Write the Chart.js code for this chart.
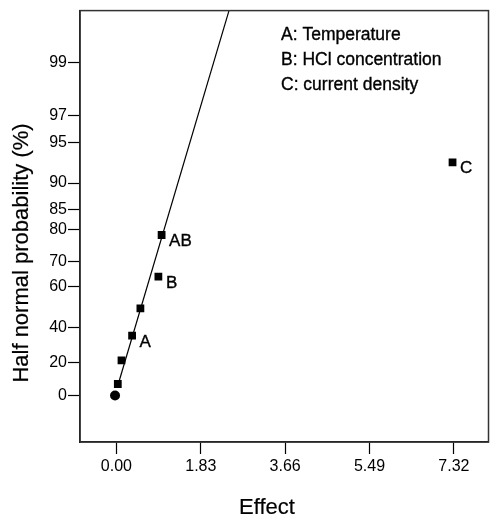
<!DOCTYPE html>
<html>
<head>
<meta charset="utf-8">
<script src="https://cdn.jsdelivr.net/npm/chart.js@4.4.1/dist/chart.umd.min.js"></script>
<style>
  html, body { margin: 0; padding: 0; background: #fff; }
  #grafico { display: block; }
</style>
</head>
<body>
<canvas id="grafico" width="494" height="519"></canvas>
<script>
// ================= DADOS =================
// effects (x) and half normal probability in % (y)
const efeitos = [0.03, 0.11, 0.34, 0.52, 0.91, 0.98, 7.29];
const probabilidades = [7.1, 21.4, 35.7, 50.0, 64.3, 78.6, 92.9];
const rotulosPontos = ["", "", "A", "", "B", "AB", "C"];

// origin marker (circle)
const origemEfeito = [-0.03];
const origemProb = [0];

// fitted line, two ends
const retaEfeito = [0.05, 2.44];
const retaProb = [8.0, 99.71];

// ticks
const ticksX = [0, 1.83, 3.66, 5.49, 7.32];
const ticksYProb = [0, 20, 40, 60, 70, 80, 85, 90, 95, 97, 99];
const rotulosY = ["0", "20", "40", "60", "70", "80", "85", "90", "95", "97", "99"];

const legendaTextos = ["A: Temperature", "B: HCl concentration", "C: current density"];

const FONTE = '"Liberation Sans", Arial, sans-serif';

// ================= ESCALA MEIO-NORMAL =================
// inverse standard normal cdf (Acklam)
function probit(p) {
  const a = [-3.969683028665376e+01, 2.209460984245205e+02, -2.759285104469687e+02, 1.383577518672690e+02, -3.066479806614716e+01, 2.506628277459239e+00];
  const b = [-5.447609879822406e+01, 1.615858368580409e+02, -1.556989798598866e+02, 6.680131188771972e+01, -1.328068155288572e+01];
  const c = [-7.784894002430293e-03, -3.223964580411365e-01, -2.400758277161838e+00, -2.549671743877302e+00, 4.374664141464968e+00, 2.938163982698783e+00];
  const d = [7.784695709041462e-03, 3.224671290700398e-01, 2.445134137142996e+00, 3.754408661907416e+00];
  const pl = 0.02425, ph = 1 - pl;
  let q, r;
  if (p < pl) {
    q = Math.sqrt(-2 * Math.log(p));
    return (((((c[0]*q+c[1])*q+c[2])*q+c[3])*q+c[4])*q+c[5]) / ((((d[0]*q+d[1])*q+d[2])*q+d[3])*q+1);
  }
  if (p <= ph) {
    q = p - 0.5; r = q * q;
    return (((((a[0]*r+a[1])*r+a[2])*r+a[3])*r+a[4])*r+a[5])*q / (((((b[0]*r+b[1])*r+b[2])*r+b[3])*r+b[4])*r+1);
  }
  q = Math.sqrt(-2 * Math.log(1 - p));
  return -(((((c[0]*q+c[1])*q+c[2])*q+c[3])*q+c[4])*q+c[5]) / ((((d[0]*q+d[1])*q+d[2])*q+d[3])*q+1);
}

// percent -> half normal score
function meioNormal(pct) {
  return probit(0.5 + pct / 200);
}

function pontos(xs, ps) {
  return xs.map((x, i) => ({ x: x, y: meioNormal(ps[i]) }));
}

// texto um pouco mais grosso, como no original escaneado
function escrever(ctx, t, x, y) {
  ctx.fillText(t, x, y);
  ctx.strokeText(t, x, y);
}

// ================= TEXTOS (plugin) =================
const textos = {
  id: "textos",
  afterDatasetsDraw(chart) {
    const ctx = chart.ctx;
    const area = chart.chartArea;
    const sx = chart.scales.x, sy = chart.scales.y;

    ctx.save();
    // frame
    ctx.strokeStyle = "#333";
    ctx.lineWidth = 1.5;
    ctx.strokeRect(area.left, area.top, area.right - area.left, area.bottom - area.top);

    ctx.fillStyle = "#000";
    ctx.strokeStyle = "#000";
    ctx.lineWidth = 0.35;
    ctx.textAlign = "left";
    ctx.textBaseline = "middle";

    // point labels
    ctx.font = "17px " + FONTE;
    efeitos.forEach((e, i) => {
      if (!rotulosPontos[i]) return;
      const px = sx.getPixelForValue(e);
      const py = sy.getPixelForValue(meioNormal(probabilidades[i]));
      escrever(ctx, rotulosPontos[i], px + 7.5, py + 6.5);
    });

    // legend text
    ctx.font = "17.5px " + FONTE;
    legendaTextos.forEach((t, i) => {
      escrever(ctx, t, 281, 35 + i * 25);
    });

    // axis titles
    ctx.lineWidth = 0.2;
    ctx.font = "22px " + FONTE;
    ctx.textAlign = "center";
    escrever(ctx, "Effect", 267, 508);

    ctx.translate(22, 253);
    ctx.rotate(-Math.PI / 2);
    escrever(ctx, "Half normal probability (%)", 0, 0);
    ctx.restore();
  }
};

// ================= GRÁFICO =================
const ctx = document.getElementById("grafico").getContext("2d");

window.grafico = new Chart(ctx, {
  type: "scatter",
  data: {
    datasets: [
      {
        type: "line",
        data: pontos(retaEfeito, retaProb),
        borderColor: "#000",
        borderWidth: 1.2,
        pointRadius: 0,
        fill: false
      },
      {
        data: pontos(efeitos, probabilidades),
        pointStyle: "rect",
        pointRadius: 5.5,
        backgroundColor: "#000",
        borderColor: "#000",
        borderWidth: 0
      },
      {
        data: pontos(origemEfeito, origemProb),
        pointStyle: "circle",
        pointRadius: 5,
        backgroundColor: "#000",
        borderColor: "#000",
        borderWidth: 0
      }
    ]
  },
  options: {
    responsive: false,
    animation: false,
    layout: { padding: { top: 7, right: 2, left: 0, bottom: 0 } },
    plugins: {
      legend: { display: false },
      tooltip: { enabled: false }
    },
    scales: {
      x: {
        type: "linear",
        min: -0.79,
        max: 8.07,
        afterFit: s => { s.height = 77; },
        afterBuildTicks: s => { s.ticks = ticksX.map(v => ({ value: v })); },
        grid: { drawOnChartArea: false, drawTicks: true, tickLength: 12, tickColor: "#000", tickWidth: 1.2 },
        border: { display: true, color: "#000", width: 1.5 },
        ticks: {
          color: "#000",
          font: { family: FONTE, size: 16 },
          padding: 3,
          maxRotation: 0,
          callback: v => Number(v).toFixed(2)
        }
      },
      y: {
        type: "linear",
        min: -0.36,
        max: 2.98,
        afterFit: s => { s.width = 80; },
        afterBuildTicks: s => { s.ticks = ticksYProb.map(p => ({ value: meioNormal(p) })); },
        grid: { drawOnChartArea: false, drawTicks: true, tickLength: 12, tickColor: "#000", tickWidth: 1.2 },
        border: { display: true, color: "#000", width: 1.5 },
        ticks: {
          color: "#000",
          font: { family: FONTE, size: 16 },
          padding: 1,
          callback: (v, i) => rotulosY[i]
        }
      }
    }
  },
  plugins: [textos]
});
</script>
</body>
</html>
